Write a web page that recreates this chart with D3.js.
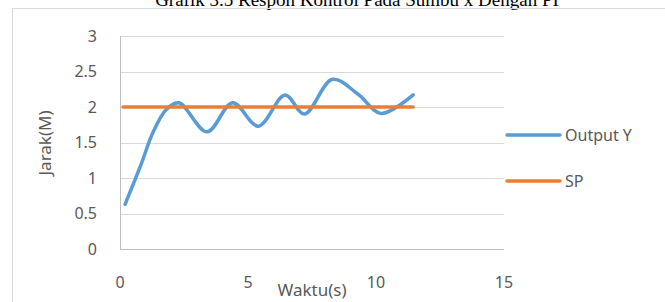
<!DOCTYPE html>
<html>
<head>
<meta charset="utf-8">
<script src="https://cdn.jsdelivr.net/npm/d3@7"></script>
<style>
  body { margin: 0; background: #fff; }
  svg text { font-family: "Noto Sans", sans-serif; fill: #595959; }
</style>
</head>
<body>
<svg id="chart" width="665" height="302"></svg>
<script>
// data
let time_out = [0.2, 0.8, 1.3, 1.8, 2.3, 3.4, 4.4, 5.4, 6.45, 7.2, 8.3, 9.3, 10.2, 11.45];
let output_y = [0.63, 1.17, 1.65, 1.96, 2.06, 1.65, 2.06, 1.73, 2.17, 1.9, 2.39, 2.18, 1.91, 2.17];
let time_sp = [0.12, 11.45];
let sp_values = [2, 2];
let x_ticks = [0, 5, 10, 15];
let y_ticks = [0, 0.5, 1, 1.5, 2, 2.5, 3];

let series = [
    { name: "Output Y", color: "#5B9BD5", pts: time_out.map((t, i) => ({ x: t, y: output_y[i] })), smooth: true },
    { name: "SP", color: "#ED7D31", pts: time_sp.map((t, i) => ({ x: t, y: sp_values[i] })), smooth: false }
];

let svg = d3.select('#chart');

let x = d3.scaleLinear().domain([0, 15]).range([120, 504]);
let y = d3.scaleLinear().domain([0, 3]).range([249, 36]);

// title (cut off at top in the original)
svg.append('text')
    .attr('x', 357)
    .attr('y', 6)
    .attr('text-anchor', 'middle')
    .style('font-family', '"Liberation Serif", "Times New Roman", serif')
    .style('font-size', '19px')
    .style('fill', '#000')
    .text('Grafik 3.5 Respon Kontrol Pada Sumbu x Dengan PI');

// chart frame
svg.append('rect')
    .attr('x', 12.5).attr('y', 8.5)
    .attr('width', 660).attr('height', 300)
    .attr('fill', 'none')
    .attr('stroke', '#D9D9D9');

// gridlines
svg.append('g')
    .selectAll('line')
    .data(y_ticks.filter(d => d > 0))
    .join('line')
    .attr('x1', x(0)).attr('x2', x(15))
    .attr('y1', d => Math.round(y(d)) + 0.5)
    .attr('y2', d => Math.round(y(d)) + 0.5)
    .attr('stroke', '#D9D9D9')
    .attr('stroke-width', 1);

// axes lines
svg.append('line')
    .attr('x1', x(0) + 0.5).attr('x2', x(0) + 0.5)
    .attr('y1', y(3)).attr('y2', y(0))
    .attr('stroke', '#BFBFBF');
svg.append('line')
    .attr('x1', x(0)).attr('x2', x(15))
    .attr('y1', Math.round(y(0)) + 0.5).attr('y2', Math.round(y(0)) + 0.5)
    .attr('stroke', '#BFBFBF');

// tick labels
svg.append('g')
    .selectAll('text')
    .data(y_ticks)
    .join('text')
    .attr('x', 97)
    .attr('y', d => y(d))
    .attr('dy', '0.35em')
    .attr('text-anchor', 'end')
    .style('font-size', '16px')
    .text(d => d);

svg.append('g')
    .selectAll('text')
    .data(x_ticks)
    .join('text')
    .attr('x', d => x(d))
    .attr('y', 282)
    .attr('dy', '0.35em')
    .attr('text-anchor', 'middle')
    .style('font-size', '16px')
    .text(d => d);

// axis titles
svg.append('text')
    .attr('transform', 'translate(45,143) rotate(-90)')
    .attr('text-anchor', 'middle')
    .attr('dy', '0.35em')
    .style('font-size', '17px')
    .text('Jarak(M)');

svg.append('text')
    .attr('x', 312)
    .attr('y', 290)
    .attr('dy', '0.35em')
    .attr('text-anchor', 'middle')
    .style('font-size', '17px')
    .text('Waktu(s)');

// series lines
svg.append('g')
    .selectAll('path')
    .data(series)
    .join('path')
    .attr('d', d => d3.line()
        .x(p => x(p.x))
        .y(p => y(p.y))
        .curve(d.smooth ? d3.curveCatmullRom.alpha(0.5) : d3.curveLinear)(d.pts))
    .attr('fill', 'none')
    .attr('stroke', d => d.color)
    .attr('stroke-width', 3.5)
    .attr('stroke-linecap', 'round');

// legend
let legend = svg.append('g')
    .selectAll('g')
    .data(series)
    .join('g')
    .attr('transform', (d, i) => 'translate(507,' + (135 + i * 46) + ')');
legend.append('line')
    .attr('x1', 0).attr('x2', 53)
    .attr('stroke', d => d.color)
    .attr('stroke-width', 3.5)
    .attr('stroke-linecap', 'round');
legend.append('text')
    .attr('x', 58)
    .attr('dy', '0.35em')
    .style('font-size', '16px')
    .text(d => d.name);
</script>
</body>
</html>
